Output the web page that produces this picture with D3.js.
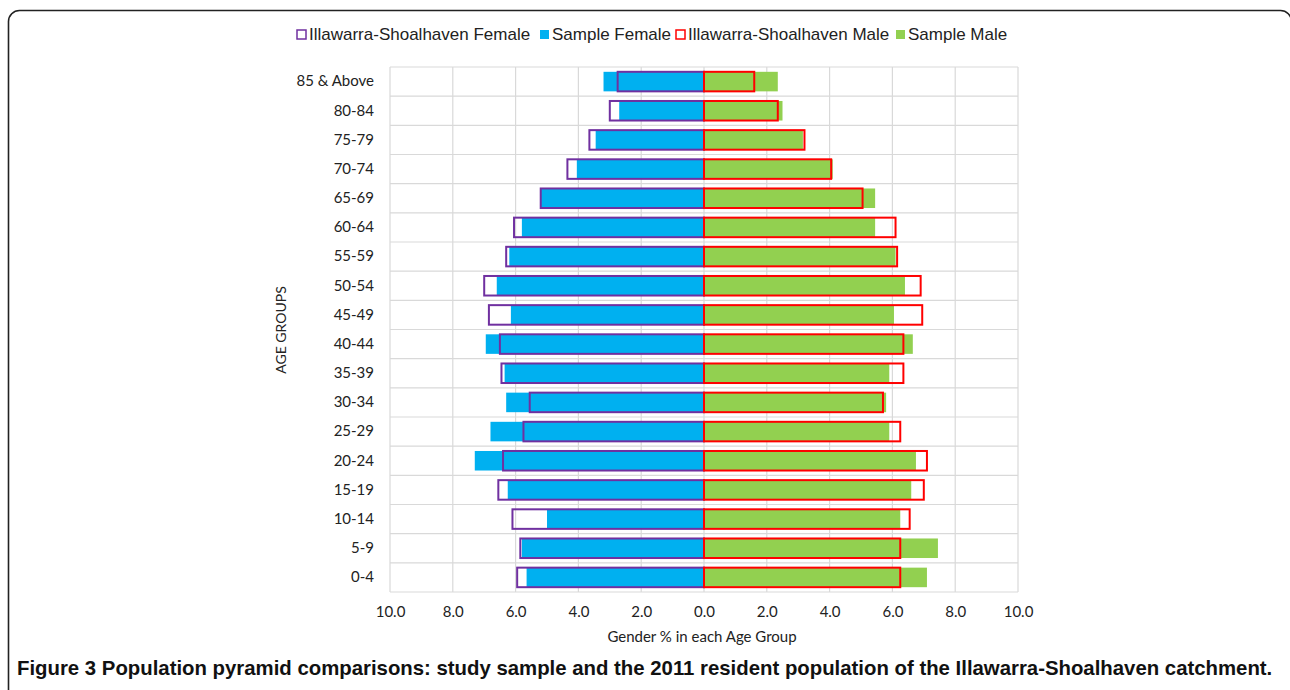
<!DOCTYPE html>
<html>
<head>
<meta charset="utf-8">
<title>Population pyramid</title>
<style>
  body { margin: 0; background: #fff; }
  svg { display: block; }
</style>
</head>
<body>
<svg width="1290" height="690"></svg>

<script src="https://d3js.org/d3.v7.min.js"></script>
<script>
// age groups, top to bottom
var ageGroups = ["85 & Above", "80-84", "75-79", "70-74", "65-69", "60-64", "55-59", "50-54",
  "45-49", "40-44", "35-39", "30-34", "25-29", "20-24", "15-19", "10-14", "5-9", "0-4"];

// % of each gender in each age group
var sampleFemale = [3.2, 2.7, 3.45, 4.05, 5.2, 5.8, 6.2, 6.6, 6.15, 6.95, 6.35, 6.3, 6.8, 7.3, 6.25, 5.0, 5.8, 5.65];
var isFemale     = [2.75, 3.0, 3.65, 4.35, 5.2, 6.05, 6.3, 7.0, 6.85, 6.5, 6.45, 5.55, 5.75, 6.4, 6.55, 6.1, 5.85, 5.95];
var isMale       = [1.6, 2.35, 3.2, 4.05, 5.05, 6.1, 6.15, 6.9, 6.95, 6.35, 6.35, 5.7, 6.25, 7.1, 7.0, 6.55, 6.25, 6.25];
var sampleMale   = [2.35, 2.5, 3.15, 4.1, 5.45, 5.45, 6.1, 6.4, 6.05, 6.65, 5.9, 5.8, 5.9, 6.75, 6.6, 6.25, 7.45, 7.1];

var xTicks = [-10, -8, -6, -4, -2, 0, 2, 4, 6, 8, 10];

var legendItems = [
  { label: "Illawarra-Shoalhaven Female", fill: "none", stroke: "#7030A0", x: 297 },
  { label: "Sample Female", fill: "#00B0F0", stroke: "none", x: 540 },
  { label: "Illawarra-Shoalhaven Male", fill: "none", stroke: "#FF0000", x: 676 },
  { label: "Sample Male", fill: "#92D050", stroke: "none", x: 896 }
];

var svg = d3.select("svg");
var labelFont = "Lato, 'Noto Sans', sans-serif";

// frame round the figure
svg.append("rect")
  .attr("x", 8.5).attr("y", 10.5)
  .attr("width", 1283).attr("height", 720)
  .attr("rx", 11)
  .attr("fill", "none")
  .attr("stroke", "#222")
  .attr("stroke-width", 1.6);

var x = d3.scaleLinear().domain([-10, 10]).range([390, 1018]);
var y = d3.scaleBand().domain(ageGroups).range([67, 592])
  .paddingInner(0.33).paddingOuter(0.165);

// gridlines
var grid = svg.append("g");
grid.selectAll(".vg").data(xTicks).enter().append("line")
  .attr("x1", function(d) { return x(d); })
  .attr("x2", function(d) { return x(d); })
  .attr("y1", 67).attr("y2", 592)
  .attr("stroke", "#d9d9d9").attr("stroke-width", 1.2);
grid.selectAll(".hg").data(d3.range(ageGroups.length + 1)).enter().append("line")
  .attr("x1", 390).attr("x2", 1018)
  .attr("y1", function(i) { return 67 + i * y.step(); })
  .attr("y2", function(i) { return 67 + i * y.step(); })
  .attr("stroke", "#d9d9d9").attr("stroke-width", 1.2);

var bars = svg.append("g");

// sample bars (filled)
bars.selectAll(".sf").data(sampleFemale).enter().append("rect")
  .attr("x", function(d) { return x(-d); })
  .attr("y", function(d, i) { return y(ageGroups[i]); })
  .attr("width", function(d) { return x(0) - x(-d); })
  .attr("height", y.bandwidth())
  .attr("fill", "#00B0F0");
bars.selectAll(".sm").data(sampleMale).enter().append("rect")
  .attr("x", x(0))
  .attr("y", function(d, i) { return y(ageGroups[i]); })
  .attr("width", function(d) { return x(d) - x(0); })
  .attr("height", y.bandwidth())
  .attr("fill", "#92D050");

// population bars (outline only)
bars.selectAll(".isf").data(isFemale).enter().append("rect")
  .attr("x", function(d) { return x(-d); })
  .attr("y", function(d, i) { return y(ageGroups[i]); })
  .attr("width", function(d) { return x(0) - x(-d); })
  .attr("height", y.bandwidth())
  .attr("fill", "none")
  .attr("stroke", "#7030A0").attr("stroke-width", 2);
bars.selectAll(".ism").data(isMale).enter().append("rect")
  .attr("x", x(0))
  .attr("y", function(d, i) { return y(ageGroups[i]); })
  .attr("width", function(d) { return x(d) - x(0); })
  .attr("height", y.bandwidth())
  .attr("fill", "none")
  .attr("stroke", "#FF0000").attr("stroke-width", 2);

// x axis labels
var xAxis = d3.axisBottom(x).tickValues(xTicks)
  .tickFormat(function(d) { return Math.abs(d).toFixed(1); })
  .tickSize(0).tickPadding(14);
var xg = svg.append("g").attr("transform", "translate(0,592)").call(xAxis);
xg.select(".domain").remove();
xg.selectAll("text").attr("font-family", labelFont).attr("font-size", 15).attr("fill", "#222");

// y axis labels
var yAxis = d3.axisLeft(y).tickSize(0).tickPadding(16);
var yg = svg.append("g").attr("transform", "translate(390,0)").call(yAxis);
yg.select(".domain").remove();
yg.selectAll("text").attr("font-family", labelFont).attr("font-size", 15).attr("fill", "#222");

// axis titles
svg.append("text")
  .attr("x", 702).attr("y", 642)
  .attr("text-anchor", "middle")
  .attr("font-family", labelFont).attr("font-size", 15).attr("fill", "#222")
  .text("Gender % in each Age Group");
svg.append("text")
  .attr("transform", "translate(286,330) rotate(-90)")
  .attr("text-anchor", "middle")
  .attr("font-family", labelFont).attr("font-size", 14).attr("fill", "#222")
  .text("AGE GROUPS");

// legend
var lg = svg.append("g");
legendItems.forEach(function(it) {
  lg.append("rect")
    .attr("x", it.x).attr("y", 30)
    .attr("width", 9).attr("height", 9)
    .attr("fill", it.fill === "none" ? "#fff" : it.fill)
    .attr("stroke", it.stroke).attr("stroke-width", 1.5);
  lg.append("text")
    .attr("x", it.x + 12).attr("y", 40)
    .attr("font-family", "'Liberation Sans Narrow', 'Liberation Sans', sans-serif")
    .attr("font-size", 17).attr("fill", "#222")
    .text(it.label);
});

// caption, squeezed sideways to fit the frame
var cap = svg.append("text")
  .attr("font-family", "'Liberation Sans Narrow', 'Liberation Sans', sans-serif")
  .attr("font-weight", "bold")
  .attr("font-size", 21).attr("fill", "#111")
  .text("Figure 3 Population pyramid comparisons: study sample and the 2011 resident population of the Illawarra-Shoalhaven catchment.");
var capW = cap.node().getComputedTextLength();
var k = Math.min(1, 1256 / capW);
cap.attr("transform", "translate(17,675) scale(" + k + ",1)");
</script>
</body>
</html>
